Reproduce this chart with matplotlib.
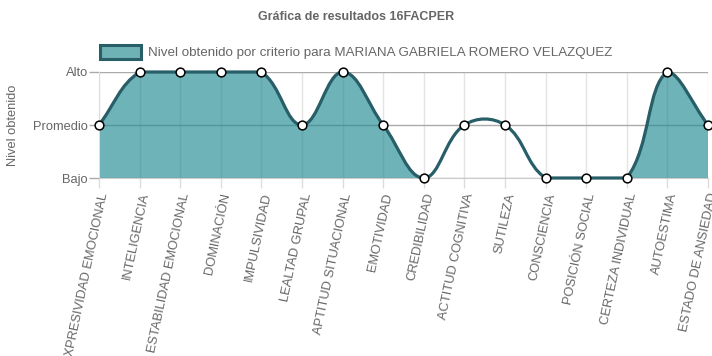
import matplotlib
matplotlib.use("Agg")
import matplotlib.pyplot as plt
import numpy as np
from matplotlib.path import Path
from matplotlib.patches import PathPatch, Patch

# ── data ──────────────────────────────────────────────────────────────────────
criterios = [
    "EXPRESIVIDAD EMOCIONAL", "INTELIGENCIA", "ESTABILIDAD EMOCIONAL",
    "DOMINACIÓN", "IMPULSIVIDAD", "LEALTAD GRUPAL", "APTITUD SITUACIONAL",
    "EMOTIVIDAD", "CREDIBILIDAD", "ACTITUD COGNITIVA", "SUTILEZA",
    "CONSCIENCIA", "POSICIÓN SOCIAL", "CERTEZA INDIVIDUAL", "AUTOESTIMA",
    "ESTADO DE ANSIEDAD",
]
niveles = [2, 3, 3, 3, 3, 2, 3, 2, 1, 2, 2, 1, 1, 1, 3, 2]
nivel_labels = ["Bajo", "Promedio", "Alto"]
# index ranges that are shaded under the curve (as in the original render)
tramos_relleno = [(0, 8), (13, 15)]

FILL = (33 / 255, 138 / 255, 146 / 255)
LINE = "#285e68"
GREY = "#666666"

plt.rcParams["font.family"] = ["Liberation Sans", "DejaVu Sans"]

fig = plt.figure(figsize=(7.12, 3.56), dpi=100)
ax = fig.add_axes([99 / 712, 1 - 178 / 356, (708 - 99) / 712, (178 - 72) / 356])

x = np.arange(len(criterios))
ax.set_xlim(0, len(criterios) - 1)
ax.set_ylim(1, 3)


def bezier_segments(xs, ys, tension=0.4):
    """Chart.js-style spline control points, computed in pixel space and capped to the area."""
    pts = ax.transData.transform(np.column_stack([xs, ys]))
    x0, y0 = ax.transData.transform((xs[0], 1))
    x1, y1 = ax.transData.transform((xs[-1], 3))
    n = len(pts)
    cp_prev, cp_next = pts.copy(), pts.copy()
    for i in range(n):
        prev = pts[max(i - 1, 0)]
        cur = pts[i]
        nxt = pts[min(i + 1, n - 1)]
        d01 = np.hypot(*(cur - prev))
        d12 = np.hypot(*(nxt - cur))
        tot = d01 + d12
        s01 = d01 / tot if tot else 0
        s12 = d12 / tot if tot else 0
        cp_prev[i] = cur - tension * s01 * (nxt - prev)
        cp_next[i] = cur + tension * s12 * (nxt - prev)
    for arr in (cp_prev, cp_next):
        arr[:, 0] = np.clip(arr[:, 0], x0, x1)
        arr[:, 1] = np.clip(arr[:, 1], y0, y1)
    inv = ax.transData.inverted()
    return inv.transform(pts), inv.transform(cp_prev), inv.transform(cp_next)


pts, cpp, cpn = bezier_segments(x, np.array(niveles, dtype=float))


def curve_path(i0, i1, close=False):
    verts = [pts[i0]]
    codes = [Path.MOVETO]
    for i in range(i0, i1):
        verts += [cpn[i], cpp[i + 1], pts[i + 1]]
        codes += [Path.CURVE4] * 3
    if close:
        verts += [(x[i1], 1), (x[i0], 1), pts[i0]]
        codes += [Path.LINETO, Path.LINETO, Path.CLOSEPOLY]
    return Path(verts, codes)


# grid and axes
ax.set_xticks(x)
ax.set_yticks([1, 2, 3])
ax.set_yticklabels(nivel_labels, fontsize=9.3, color=GREY)
ax.set_xticklabels(criterios, rotation=78, ha="right", va="top",
                   rotation_mode="anchor", fontsize=9.3, color=GREY)
ax.tick_params(axis="both", length=7, color="#dddddd", width=1)
ax.tick_params(axis="y", color="#aaaaaa", pad=1)
ax.tick_params(axis="x", pad=3)
ax.grid(axis="x", color="#e4e4e4", linewidth=1)
ax.grid(axis="y", color="#aaaaaa", linewidth=1)
ax.set_axisbelow(True)
for side in ("top", "right"):
    ax.spines[side].set_visible(False)
ax.spines["left"].set_color("#dddddd")
ax.spines["bottom"].set_color("#cccccc")
ax.set_ylabel("Nivel obtenido", fontsize=9.3, color=GREY, labelpad=10)

# fill areas
for a, b in tramos_relleno:
    ax.add_patch(PathPatch(curve_path(a, b, close=True), facecolor=FILL,
                           edgecolor="none", alpha=0.65, zorder=1))

# curve and points
ax.add_patch(PathPatch(curve_path(0, len(x) - 1), facecolor="none",
                       edgecolor=LINE, linewidth=2.3, zorder=3, clip_on=False))
ax.plot(x, niveles, linestyle="none", marker="o", markersize=6.3,
        markerfacecolor="white", markeredgecolor="black",
        markeredgewidth=1.1, zorder=4, clip_on=False)

fig.text(0.5, 1 - 17 / 356, "Gráfica de resultados 16FACPER", ha="center",
         va="center", fontsize=9, fontweight="bold", color=GREY)

handle = Patch(facecolor=(110 / 255, 178 / 255, 182 / 255), edgecolor=LINE, linewidth=2.2)
fig.legend([handle], ["Nivel obtenido por criterio para MARIANA GABRIELA ROMERO VELAZQUEZ"],
           loc="center", bbox_to_anchor=(0.5, 1 - 52 / 356), frameon=False,
           fontsize=9.6, labelcolor=GREY, handlelength=3.1, handleheight=1.2,
           handletextpad=0.5, borderpad=0)

fig.savefig("out.png", dpi=100)
